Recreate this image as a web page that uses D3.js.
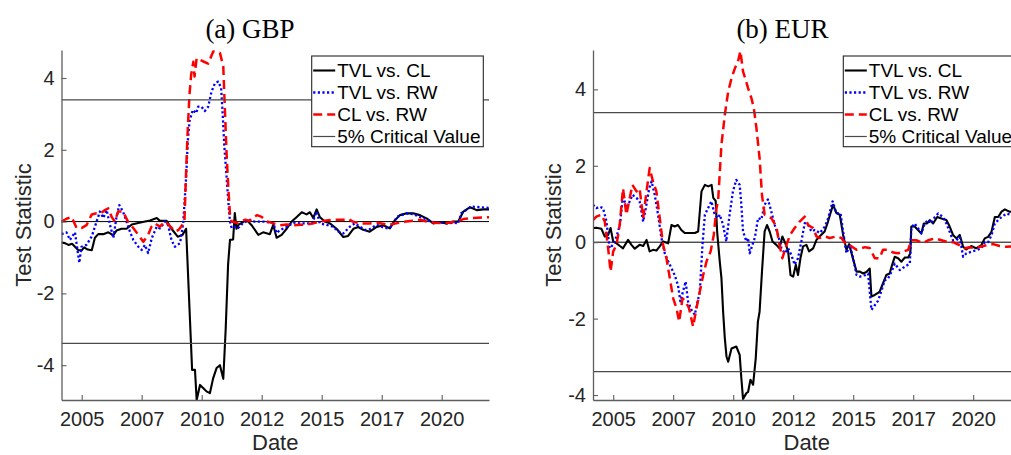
<!DOCTYPE html>
<html>
<head>
<meta charset="utf-8">
<script src="https://cdn.jsdelivr.net/npm/d3@7"></script>
<style>
  html, body { margin: 0; padding: 0; background: #fff; }
  svg { display: block; }
</style>
</head>
<body>
<svg id="chart" width="1011" height="455"></svg>
<script>
// ---- data: [decimal year, test statistic] ----
const gbpTvlVsCl = [[2004.16,-0.58],[2004.3,-0.6],[2004.45,-0.65],[2004.6,-0.62],[2004.72,-0.7],[2004.85,-0.79],[2005.0,-0.8],[2005.1,-0.72],[2005.25,-0.78],[2005.42,-0.8],[2005.55,-0.45],[2005.69,-0.35],[2005.9,-0.35],[2006.11,-0.3],[2006.32,-0.38],[2006.45,-0.25],[2006.66,-0.2],[2006.87,-0.2],[2007.09,-0.08],[2007.36,-0.04],[2007.64,0.0],[2007.85,0.03],[2008.13,0.1],[2008.26,0.02],[2008.54,0.02],[2008.74,-0.2],[2009.0,-0.42],[2009.2,-0.37],[2009.35,-0.2],[2009.6,-4.13],[2009.72,-4.13],[2009.79,-4.97],[2009.93,-4.55],[2010.07,-4.64],[2010.2,-4.73],[2010.34,-4.78],[2010.48,-4.36],[2010.62,-4.08],[2010.76,-4.0],[2010.9,-4.38],[2011.0,-3.0],[2011.1,-1.2],[2011.18,-0.51],[2011.31,-0.5],[2011.38,0.24],[2011.45,-0.2],[2011.53,-0.09],[2011.87,0.05],[2012.08,-0.1],[2012.36,-0.37],[2012.56,-0.3],[2012.84,-0.35],[2012.98,-0.09],[2013.12,-0.45],[2013.33,-0.37],[2013.54,-0.2],[2013.75,0.0],[2013.96,0.13],[2014.17,0.26],[2014.37,0.2],[2014.51,0.26],[2014.65,0.1],[2014.79,0.34],[2014.92,0.13],[2015.13,0.0],[2015.34,-0.05],[2015.62,-0.2],[2015.9,-0.43],[2016.1,-0.4],[2016.32,-0.2],[2016.52,-0.15],[2016.73,-0.23],[2017.0,-0.28],[2017.29,-0.15],[2017.56,-0.1],[2017.84,-0.19],[2018.05,0.04],[2018.26,0.18],[2018.54,0.23],[2018.81,0.23],[2019.09,0.18],[2019.37,0.09],[2019.65,-0.05],[2019.93,-0.02],[2020.2,-0.05],[2020.48,0.0],[2020.69,0.0],[2020.9,0.28],[2021.18,0.4],[2021.46,0.32],[2021.73,0.34],[2021.97,0.34]];

const gbpTvlVsRw = [[2004.16,-0.35],[2004.37,-0.3],[2004.51,-0.51],[2004.72,-0.3],[2004.9,-1.15],[2004.99,-0.7],[2005.2,-0.65],[2005.42,-0.41],[2005.62,0.0],[2005.76,0.28],[2005.9,0.1],[2006.04,0.32],[2006.18,-0.09],[2006.32,-0.46],[2006.45,0.13],[2006.57,0.46],[2006.72,0.28],[2006.87,0.0],[2007.01,-0.28],[2007.15,-0.51],[2007.36,-0.7],[2007.5,-0.79],[2007.64,-0.65],[2007.77,-0.88],[2007.92,-0.46],[2008.13,-0.14],[2008.26,-0.19],[2008.47,0.0],[2008.6,-0.1],[2008.74,-0.51],[2008.88,-0.7],[2009.1,-0.6],[2009.23,-0.04],[2009.35,1.22],[2009.42,2.23],[2009.49,2.79],[2009.63,3.11],[2009.77,3.02],[2009.85,3.2],[2009.99,3.2],[2010.13,3.08],[2010.27,3.2],[2010.41,3.62],[2010.55,3.85],[2010.69,3.9],[2010.81,3.72],[2010.87,3.06],[2010.94,2.14],[2011.04,1.22],[2011.11,0.56],[2011.18,0.0],[2011.25,-0.18],[2011.38,-0.14],[2011.52,-0.18],[2011.72,-0.04],[2012.0,0.05],[2012.2,0.0],[2012.6,0.0],[2012.98,-0.04],[2013.12,-0.32],[2013.26,-0.24],[2013.54,-0.15],[2013.82,-0.03],[2014.1,-0.05],[2014.37,-0.05],[2014.6,-0.05],[2014.79,0.28],[2014.92,-0.05],[2015.19,-0.09],[2015.47,-0.14],[2015.7,-0.28],[2015.9,-0.33],[2016.18,-0.14],[2016.38,-0.05],[2016.59,-0.14],[2016.8,-0.23],[2017.0,-0.21],[2017.29,-0.09],[2017.56,-0.16],[2017.77,-0.19],[2017.98,-0.09],[2018.12,0.13],[2018.33,0.18],[2018.54,0.23],[2018.81,0.21],[2019.09,0.13],[2019.37,0.06],[2019.65,-0.02],[2019.93,-0.02],[2020.2,-0.05],[2020.48,-0.03],[2020.69,-0.05],[2020.81,0.23],[2021.02,0.32],[2021.24,0.42],[2021.6,0.4],[2021.97,0.38]];

const gbpClVsRw = [[2004.16,0.0],[2004.37,0.08],[2004.58,0.13],[2004.79,-0.18],[2004.99,-0.18],[2005.2,-0.1],[2005.42,0.2],[2005.62,0.23],[2005.8,0.23],[2005.97,0.32],[2006.11,0.37],[2006.25,0.13],[2006.38,0.0],[2006.52,0.28],[2006.72,0.28],[2006.93,0.0],[2007.15,-0.18],[2007.36,-0.37],[2007.57,-0.56],[2007.77,-0.37],[2007.91,-0.14],[2008.05,-0.05],[2008.26,-0.14],[2008.47,0.0],[2008.7,-0.14],[2008.9,-0.28],[2009.04,-0.23],[2009.2,-0.09],[2009.28,0.0],[2009.35,1.39],[2009.42,2.6],[2009.49,3.53],[2009.56,4.09],[2009.65,4.45],[2009.7,4.04],[2009.79,4.55],[2010.07,4.46],[2010.27,4.4],[2010.48,4.74],[2010.76,4.7],[2010.9,4.32],[2010.97,3.06],[2011.04,1.86],[2011.11,0.93],[2011.18,0.19],[2011.25,0.0],[2011.52,-0.04],[2011.8,0.05],[2012.0,0.02],[2012.3,0.18],[2012.5,0.13],[2012.75,0.0],[2012.98,-0.05],[2013.26,-0.1],[2013.54,-0.08],[2013.82,-0.1],[2014.1,-0.09],[2014.37,-0.08],[2014.65,-0.05],[2014.92,0.0],[2015.19,0.03],[2015.47,0.05],[2015.9,0.05],[2016.1,0.08],[2016.3,0.0],[2016.59,-0.05],[2017.0,-0.05],[2017.3,-0.03],[2017.8,-0.09],[2018.1,-0.05],[2018.5,0.0],[2019.1,0.05],[2019.4,0.0],[2019.7,-0.03],[2020.1,-0.05],[2020.6,0.0],[2020.9,0.07],[2021.3,0.1],[2021.97,0.12]];

const eurTvlVsCl = [[2004.16,0.37],[2004.3,0.38],[2004.51,0.35],[2004.65,0.15],[2004.79,0.19],[2004.89,0.37],[2005.0,0.02],[2005.14,-0.03],[2005.28,-0.1],[2005.41,-0.16],[2005.62,0.06],[2005.76,-0.07],[2005.9,-0.17],[2006.1,-0.07],[2006.25,-0.1],[2006.39,0.06],[2006.52,-0.24],[2006.66,-0.2],[2006.8,-0.22],[2006.94,-0.11],[2007.08,0.02],[2007.29,-0.03],[2007.43,0.45],[2007.56,0.41],[2007.7,0.45],[2007.84,0.32],[2007.98,0.24],[2008.2,0.24],[2008.4,0.24],[2008.54,0.28],[2008.68,1.33],[2008.82,1.5],[2008.96,1.46],[2009.1,1.5],[2009.17,1.16],[2009.27,1.08],[2009.33,0.28],[2009.44,-0.51],[2009.51,-0.94],[2009.58,-1.82],[2009.65,-2.51],[2009.72,-2.99],[2009.79,-3.13],[2009.93,-2.78],[2010.13,-2.73],[2010.27,-2.95],[2010.34,-3.56],[2010.41,-4.1],[2010.55,-3.95],[2010.62,-3.92],[2010.72,-3.6],[2010.83,-3.73],[2010.94,-3.04],[2011.03,-2.08],[2011.1,-1.82],[2011.2,-0.77],[2011.31,0.28],[2011.41,0.45],[2011.52,0.28],[2011.64,0.02],[2011.8,-0.07],[2011.93,-0.16],[2012.05,0.15],[2012.2,-0.07],[2012.29,-0.24],[2012.39,-0.86],[2012.5,-0.9],[2012.61,-0.59],[2012.7,-0.86],[2012.8,-0.42],[2012.91,-0.11],[2013.05,-0.07],[2013.16,-0.24],[2013.33,-0.16],[2013.47,0.06],[2013.6,0.15],[2013.81,0.28],[2013.95,0.54],[2014.16,0.98],[2014.3,0.76],[2014.44,0.72],[2014.58,0.19],[2014.72,-0.2],[2014.83,-0.05],[2015.0,-0.45],[2015.14,-0.77],[2015.28,-0.77],[2015.42,-0.82],[2015.55,-0.78],[2015.69,-0.69],[2015.76,-1.42],[2015.9,-1.38],[2016.1,-1.3],[2016.24,-1.08],[2016.38,-0.86],[2016.52,-0.82],[2016.6,-0.64],[2016.73,-0.38],[2016.87,-0.42],[2017.01,-0.51],[2017.15,-0.4],[2017.29,-0.4],[2017.38,-0.29],[2017.42,0.41],[2017.56,0.41],[2017.7,0.32],[2017.84,0.23],[2017.94,0.49],[2018.08,0.49],[2018.19,0.58],[2018.33,0.49],[2018.5,0.66],[2018.68,0.62],[2018.88,0.58],[2019.02,0.41],[2019.16,0.19],[2019.3,0.1],[2019.44,0.19],[2019.58,-0.12],[2019.71,-0.19],[2019.92,-0.1],[2020.12,-0.16],[2020.34,-0.08],[2020.48,0.1],[2020.62,0.14],[2020.76,0.27],[2020.9,0.66],[2021.04,0.66],[2021.18,0.8],[2021.32,0.86],[2021.5,0.8],[2021.97,0.78]];

const eurTvlVsRw = [[2004.16,0.98],[2004.3,0.89],[2004.44,0.93],[2004.58,0.89],[2004.72,0.54],[2004.85,-0.16],[2004.99,-0.07],[2005.14,0.15],[2005.28,0.45],[2005.41,1.24],[2005.55,0.89],[2005.69,1.07],[2005.8,1.24],[2005.97,1.16],[2006.1,1.07],[2006.25,0.54],[2006.36,0.89],[2006.5,1.41],[2006.6,1.59],[2006.73,1.24],[2006.87,0.72],[2007.01,0.11],[2007.15,-0.29],[2007.29,-0.5],[2007.43,-0.68],[2007.56,-0.86],[2007.7,-1.12],[2007.8,-1.55],[2007.91,-1.29],[2008.02,-1.03],[2008.12,-1.55],[2008.26,-1.77],[2008.4,-1.9],[2008.5,-1.6],[2008.61,-1.29],[2008.72,-0.07],[2008.82,0.72],[2008.95,0.89],[2009.09,1.07],[2009.23,0.72],[2009.37,0.63],[2009.44,0.72],[2009.58,0.45],[2009.71,0.02],[2009.85,0.72],[2009.99,1.33],[2010.13,1.63],[2010.27,1.5],[2010.34,0.98],[2010.41,0.28],[2010.55,0.02],[2010.62,0.11],[2010.69,-0.29],[2010.8,-0.07],[2010.9,0.11],[2011.04,0.63],[2011.17,0.59],[2011.31,0.98],[2011.45,1.12],[2011.59,0.8],[2011.73,0.45],[2011.87,0.19],[2012.01,-0.16],[2012.15,-0.29],[2012.29,-0.16],[2012.42,-0.33],[2012.56,-0.59],[2012.7,-0.42],[2012.84,0.02],[2012.98,0.5],[2013.12,0.45],[2013.26,0.28],[2013.4,0.32],[2013.61,0.24],[2013.82,0.41],[2013.96,0.63],[2014.14,1.07],[2014.3,0.76],[2014.47,0.76],[2014.58,0.28],[2014.72,-0.29],[2014.86,-0.07],[2015.0,-0.42],[2015.14,-0.86],[2015.28,-0.9],[2015.5,-0.86],[2015.62,-0.82],[2015.76,-1.77],[2015.9,-1.65],[2016.04,-1.53],[2016.18,-1.27],[2016.31,-1.0],[2016.45,-0.95],[2016.6,-0.77],[2016.73,-0.56],[2016.94,-0.73],[2017.15,-0.64],[2017.36,-0.56],[2017.42,0.37],[2017.56,0.49],[2017.7,0.37],[2017.84,0.23],[2017.98,0.49],[2018.12,0.58],[2018.26,0.49],[2018.4,0.66],[2018.54,0.75],[2018.74,0.66],[2018.88,0.49],[2019.02,0.27],[2019.16,0.05],[2019.3,0.05],[2019.44,0.14],[2019.58,-0.38],[2019.72,-0.29],[2019.93,-0.25],[2020.13,-0.21],[2020.34,-0.16],[2020.48,0.0],[2020.62,0.0],[2020.76,0.18],[2020.9,0.49],[2021.04,0.58],[2021.18,0.66],[2021.39,0.75],[2021.6,0.71],[2021.97,0.72]];

const eurClVsRw = [[2004.16,0.58],[2004.3,0.67],[2004.51,0.72],[2004.65,0.54],[2004.79,-0.16],[2004.89,-0.77],[2005.0,-0.24],[2005.14,-0.07],[2005.27,0.45],[2005.41,1.41],[2005.55,0.72],[2005.66,1.07],[2005.8,1.5],[2005.97,1.33],[2006.1,1.41],[2006.25,0.63],[2006.39,1.33],[2006.52,1.94],[2006.66,1.59],[2006.8,1.33],[2006.94,0.63],[2007.08,-0.07],[2007.22,-0.42],[2007.36,-0.94],[2007.5,-1.47],[2007.64,-1.73],[2007.75,-2.08],[2007.89,-1.47],[2008.02,-1.55],[2008.16,-1.73],[2008.33,-2.21],[2008.47,-1.73],[2008.61,-1.29],[2008.75,-0.86],[2008.89,-0.5],[2009.06,-0.24],[2009.19,0.19],[2009.3,0.89],[2009.37,1.07],[2009.51,2.55],[2009.65,3.33],[2009.79,3.94],[2009.93,4.29],[2010.07,4.55],[2010.2,4.73],[2010.3,5.0],[2010.41,4.47],[2010.52,4.25],[2010.62,4.03],[2010.76,3.77],[2010.86,3.51],[2010.97,2.98],[2011.1,2.2],[2011.2,1.24],[2011.31,0.72],[2011.45,0.67],[2011.59,0.63],[2011.8,0.41],[2011.93,-0.07],[2012.05,-0.42],[2012.22,-0.07],[2012.37,0.19],[2012.56,0.37],[2012.77,0.54],[2012.98,0.67],[2013.12,0.45],[2013.33,0.37],[2013.47,0.15],[2013.6,0.11],[2013.82,0.15],[2014.02,0.11],[2014.3,0.15],[2014.51,0.11],[2014.72,-0.07],[2014.86,-0.08],[2015.14,-0.2],[2015.49,-0.13],[2015.69,-0.15],[2015.9,-0.42],[2016.1,-0.42],[2016.24,-0.2],[2016.45,-0.2],[2016.66,-0.27],[2016.87,-0.29],[2017.08,-0.25],[2017.29,-0.2],[2017.42,0.05],[2017.63,0.05],[2017.91,-0.02],[2018.12,0.05],[2018.4,0.1],[2018.68,0.05],[2018.95,0.0],[2019.16,0.0],[2019.44,-0.08],[2019.65,-0.16],[2019.85,-0.13],[2020.07,-0.16],[2020.28,-0.12],[2020.55,-0.08],[2020.83,-0.05],[2021.1,-0.1],[2021.38,-0.12],[2021.97,-0.1]];

const criticalValue = 3.39;
const xTickYears = [2005, 2007.5, 2010, 2012.5, 2015, 2017.5, 2020];
const yTicks = [-4, -2, 0, 2, 4];
const seriesNames = ["TVL vs. CL", "TVL vs. RW", "CL vs. RW", "5% Critical Value"];
const panelTitles = ["(a) GBP", "(b) EUR"];

// ---- helpers ----
function yearToDate(yv) {
  const yr = Math.floor(yv);
  const a = new Date(yr, 0, 1).getTime(), b = new Date(yr + 1, 0, 1).getTime();
  return new Date(a + (yv - yr) * (b - a));
}

const SANS = "'Liberation Sans', Arial, Helvetica, sans-serif";
const SERIF = "'Liberation Serif', 'Times New Roman', serif";
const AXIS_COLOR = "#5e5e5e";
const TEXT_COLOR = "#262626";

const styles = [
  { color: "#000000", width: 2.1, dash: null },
  { color: "#0000ff", width: 2.3, dash: "2.2,2.4" },
  { color: "#ff0000", width: 2.5, dash: "9,5" },
  { color: "#4a4a4a", width: 1.2, dash: null }
];

const svg = d3.select("#chart");

const panels = [
  { title: panelTitles[0], titleX: 250, series: [gbpTvlVsCl, gbpTvlVsRw, gbpClVsRw],
    x0: 61.5, x1: 489, yDomain: [-4.97, 4.78], ylabelX: 31, legendX: 311.7 },
  { title: panelTitles[1], titleX: 782.5, series: [eurTvlVsCl, eurTvlVsRw, eurClVsRw],
    x0: 593, x1: 1020.5, yDomain: [-4.13, 5.03], ylabelX: 561, legendX: 843.3 }
];

const plotTop = 50, plotBottom = 400;

panels.forEach((p, pi) => {
  const x = d3.scaleTime()
    .domain([yearToDate(2004.16), yearToDate(2021.97)])
    .range([p.x0, p.x1]);
  const y = d3.scaleLinear().domain(p.yDomain).range([plotBottom, plotTop]);

  const g = svg.append("g");

  const clipId = "clip" + pi;
  svg.append("clipPath").attr("id", clipId)
    .append("rect").attr("x", p.x0).attr("y", plotTop - 2)
    .attr("width", p.x1 - p.x0).attr("height", plotBottom - plotTop + 3);

  const plot = g.append("g").attr("clip-path", `url(#${clipId})`);

  // zero reference line
  plot.append("line")
    .attr("x1", p.x0).attr("x2", p.x1)
    .attr("y1", y(0)).attr("y2", y(0))
    .attr("stroke", "#000").attr("stroke-width", 1);

  const line = d3.line()
    .x(d => x(yearToDate(d[0])))
    .y(d => y(d[1]));

  p.series.forEach((s, i) => {
    const st = styles[i];
    plot.append("path")
      .datum(s)
      .attr("d", line)
      .attr("fill", "none")
      .attr("stroke", st.color)
      .attr("stroke-width", st.width)
      .attr("stroke-linejoin", "round")
      .attr("stroke-dasharray", st.dash);
  });

  // critical values
  [criticalValue, -criticalValue].forEach(cv => {
    plot.append("line")
      .attr("x1", p.x0).attr("x2", p.x1)
      .attr("y1", y(cv)).attr("y2", y(cv))
      .attr("stroke", styles[3].color).attr("stroke-width", styles[3].width);
  });

  // axes
  const xAxis = d3.axisBottom(x)
    .tickValues(xTickYears.map(yearToDate))
    .tickFormat(d3.timeFormat("%Y"))
    .tickSizeInner(-5).tickSizeOuter(0).tickPadding(12);
  const yAxis = d3.axisLeft(y)
    .tickValues(yTicks)
    .tickFormat(d => String(d))
    .tickSizeInner(-5).tickSizeOuter(0).tickPadding(7);

  const gx = g.append("g").attr("transform", `translate(0,${plotBottom})`).call(xAxis);
  const gy = g.append("g").attr("transform", `translate(${p.x0},0)`).call(yAxis);
  [gx, gy].forEach(ax => {
    ax.select(".domain").attr("stroke", AXIS_COLOR).attr("stroke-width", 1.3);
    ax.selectAll(".tick line").attr("stroke", AXIS_COLOR).attr("stroke-width", 1.1);
    ax.selectAll(".tick text").attr("fill", TEXT_COLOR)
      .style("font-family", SANS).style("font-size", "20px");
  });

  // axis labels
  g.append("text")
    .attr("x", (p.x0 + p.x1) / 2).attr("y", 449.5)
    .attr("text-anchor", "middle")
    .style("font-family", SANS).style("font-size", "22px")
    .attr("fill", TEXT_COLOR).text("Date");
  g.append("text")
    .attr("transform", `translate(${p.ylabelX},${(plotTop + plotBottom) / 2}) rotate(-90)`)
    .attr("text-anchor", "middle")
    .style("font-family", SANS).style("font-size", "22px")
    .attr("fill", TEXT_COLOR).text("Test Statistic");

  // title
  g.append("text")
    .attr("x", p.titleX).attr("y", 38)
    .attr("text-anchor", "middle")
    .style("font-family", SERIF).style("font-size", "27px")
    .attr("fill", "#000").text(p.title);

  // legend
  const lg = g.append("g").attr("transform", `translate(${p.legendX},56)`);
  lg.append("rect")
    .attr("width", 171.6).attr("height", 90.7)
    .attr("fill", "#fff").attr("stroke", "#262626").attr("stroke-width", 1.1);
  seriesNames.forEach((name, i) => {
    const cy = 14.5 + i * 22;
    const st = styles[i];
    lg.append("line")
      .attr("x1", 1.5).attr("x2", 23.5).attr("y1", cy).attr("y2", cy)
      .attr("stroke", st.color).attr("stroke-width", st.width)
      .attr("stroke-dasharray", st.dash);
    lg.append("text")
      .attr("x", 25.5).attr("y", cy).attr("dy", "0.35em")
      .style("font-family", SANS).style("font-size", "19px")
      .attr("fill", "#000").text(name);
  });
});
</script>
</body>
</html>
